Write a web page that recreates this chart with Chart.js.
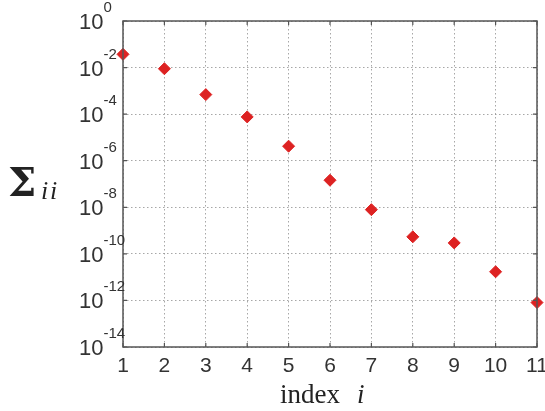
<!DOCTYPE html>
<html>
<head>
<meta charset="utf-8">
<script src="https://cdn.jsdelivr.net/npm/chart.js@4.4.1/dist/chart.umd.min.js"></script>
<style>
html,body{margin:0;padding:0;background:#fff;}
#wrap{width:545px;height:411px;position:relative;}
</style>
</head>
<body>
<div id="wrap"><canvas id="c" width="545" height="411"></canvas></div>
<script>
// Data
const indices = [1, 2, 3, 4, 5, 6, 7, 8, 9, 10, 11];
const sigmaValues = [3.7e-2, 8.9e-3, 6.9e-4, 7.6e-5, 4.2e-6, 1.45e-7, 7.9e-9, 5.4e-10, 2.95e-10, 1.7e-11, 8.1e-13];
const yTickExponents = [0, -2, -4, -6, -8, -10, -12, -14];
const xTickLabels = ['1','2','3','4','5','6','7','8','9','10','11'];
const xAxisLabel = 'index';
const xAxisVar = 'i';
const yAxisSymbol = 'Σ';
const yAxisSub = 'ii';

const decorPlugin = {
  id: 'decor',
  afterDraw(chart) {
    const ctx = chart.ctx;
    const a = chart.chartArea;
    const xs = chart.scales.x, ys = chart.scales.y;
    ctx.save();
    // box
    ctx.strokeStyle = '#555';
    ctx.lineWidth = 1.5;
    ctx.setLineDash([]);
    ctx.strokeRect(a.left, a.top, a.right - a.left, a.bottom - a.top);
    // inward ticks
    ctx.lineWidth = 1.2;
    ctx.beginPath();
    yTickExponents.forEach(e => {
      const y = ys.getPixelForValue(Math.pow(10, e));
      ctx.moveTo(a.left, y); ctx.lineTo(a.left + 4, y);
      ctx.moveTo(a.right, y); ctx.lineTo(a.right - 4, y);
    });
    xTickLabels.forEach((t, i) => {
      const x = xs.getPixelForValue(indices[i]);
      ctx.moveTo(x, a.bottom); ctx.lineTo(x, a.bottom - 4);
      ctx.moveTo(x, a.top); ctx.lineTo(x, a.top + 4);
    });
    ctx.stroke();
    // y tick labels 10^e
    ctx.fillStyle = '#333';
    ctx.textBaseline = 'alphabetic';
    yTickExponents.forEach(e => {
      const y = ys.getPixelForValue(Math.pow(10, e));
      ctx.font = '22px "Liberation Sans", Arial, sans-serif';
      ctx.textAlign = 'left';
      const bx = 79;
      ctx.fillText('10', bx, y + 8);
      const w = ctx.measureText('10').width;
      ctx.font = '15px "Liberation Sans", Arial, sans-serif';
      ctx.fillText(String(e), bx + w, y - 9);
    });
    // x tick labels
    ctx.font = '21px "Liberation Sans", Arial, sans-serif';
    ctx.textAlign = 'center';
    xTickLabels.forEach((t, i) => {
      const x = xs.getPixelForValue(indices[i]);
      ctx.fillText(t, x, a.bottom + 25);
    });
    // x axis title
    ctx.fillStyle = '#222';
    ctx.textAlign = 'left';
    ctx.font = '27px "Liberation Serif", "DejaVu Serif", serif';
    ctx.fillText(xAxisLabel, 280, 403);
    ctx.font = 'italic 27px "Liberation Serif", "DejaVu Serif", serif';
    ctx.fillText(xAxisVar, 357, 403);
    // y axis title
    ctx.font = 'bold 40px "DejaVu Serif", "Liberation Serif", serif';
    ctx.fillText(yAxisSymbol, 8, 196);
    ctx.font = 'italic 26px "Liberation Serif", "DejaVu Serif", serif';
    ctx.fillText(yAxisSub[0], 41, 199);
    ctx.fillText(yAxisSub[1], 50, 199);
    ctx.restore();
  }
};

new Chart(document.getElementById('c'), {
  type: 'scatter',
  data: {
    datasets: [{
      data: indices.map((x, i) => ({ x: x, y: sigmaValues[i] })),
      pointStyle: 'rectRot',
      pointRadius: 6,
      pointBackgroundColor: '#dd2222',
      pointBorderColor: '#dd2222',
      pointBorderWidth: 1,
      clip: false
    }]
  },
  options: {
    responsive: false,
    animation: false,
    layout: { padding: { left: 123, top: 21, right: 8, bottom: 64 } },
    plugins: { legend: { display: false }, tooltip: { enabled: false } },
    scales: {
      x: {
        type: 'linear', min: 1, max: 11,
        ticks: { display: false, stepSize: 1 },
        grid: { color: 'rgba(130,130,130,0.7)', lineWidth: 1, drawTicks: false },
        border: { display: false, dash: [1.5, 2.5] },
        afterBuildTicks: s => { s.ticks = indices.map(v => ({ value: v })); }
      },
      y: {
        type: 'logarithmic', min: 1e-14, max: 1,
        ticks: { display: false },
        grid: { color: 'rgba(130,130,130,0.7)', lineWidth: 1, drawTicks: false },
        border: { display: false, dash: [1.5, 2.5] },
        afterBuildTicks: s => { s.ticks = yTickExponents.map(e => ({ value: Math.pow(10, e) })); }
      }
    }
  },
  plugins: [decorPlugin]
});
</script>
</body>
</html>
